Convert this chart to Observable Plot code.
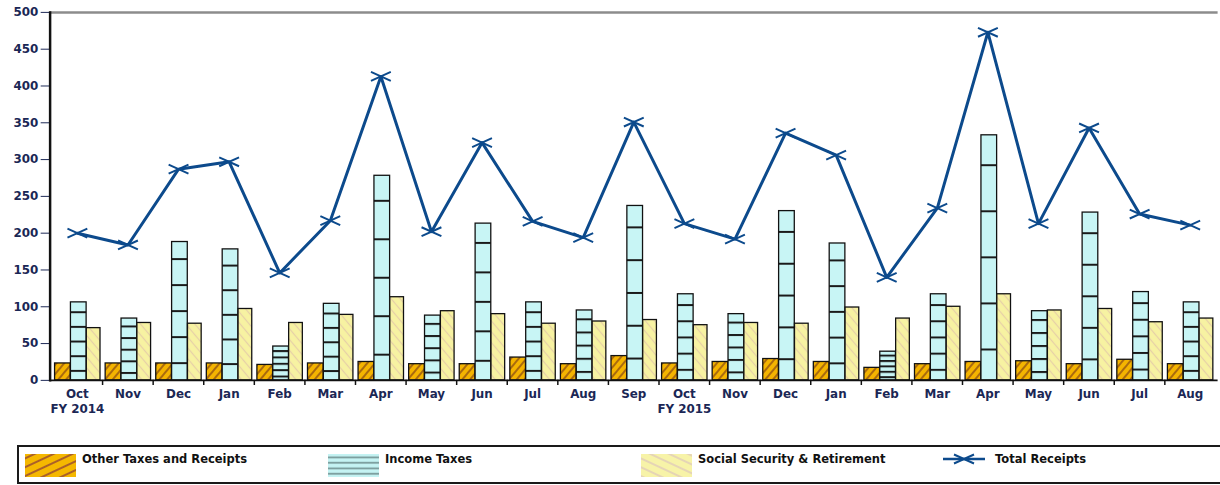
<!DOCTYPE html>
<html>
<head>
<meta charset="utf-8">
<script src="https://cdn.jsdelivr.net/npm/d3@7"></script>
<script src="https://cdn.jsdelivr.net/npm/@observablehq/plot@0.6"></script>
<style>
  html, body { margin: 0; padding: 0; overflow: hidden; background: #fff; width: 1220px; height: 485px; }
  #chart { position: absolute; left: 0; top: 0; }
  #legendBox { position: absolute; left: 17px; top: 445px; width: 1240px; height: 39px; box-sizing: border-box; border: 2px solid #1a1a1a; }
  .sw { position: absolute; }
  .lt { position: absolute; top: 452px; font: bold 11.5px "DejaVu Sans", sans-serif; color: #111; white-space: nowrap; }
</style>
</head>
<body>
<div id="chart"></div>
<div id="legendBox"></div>
<svg class="sw" style="left:25px;top:454px" width="51" height="23"><rect width="51" height="23" fill="url(#lgOther)"/></svg>
<div class="lt" style="left:82px">Other Taxes and Receipts</div>
<svg class="sw" style="left:328px;top:454px" width="51" height="23"><rect width="51" height="23" fill="url(#lgIncome)"/></svg>
<div class="lt" style="left:385px">Income Taxes</div>
<svg class="sw" style="left:641px;top:454px" width="51" height="23"><rect width="51" height="23" fill="url(#lgSS)"/></svg>
<div class="lt" style="left:698px">Social Security &amp; Retirement</div>
<svg class="sw" style="left:942px;top:452px" width="44" height="14">
  <line x1="1" y1="7" x2="43" y2="7" stroke="#0c4a8c" stroke-width="2.5"/>
  <path d="M12,2.5L32,11.5M12,11.5L32,2.5" stroke="#0c4a8c" stroke-width="2" fill="none"/>
</svg>
<div class="lt" style="left:995px">Total Receipts</div>

<svg width="0" height="0" style="position:absolute">
  <defs>
    <pattern id="pOther" patternUnits="userSpaceOnUse" width="6" height="6" patternTransform="rotate(40)">
      <rect width="6" height="6" fill="#f4b400"/>
      <line x1="3" y1="0" x2="3" y2="6" stroke="#8a4a14" stroke-width="1.4"/>
    </pattern>
    <pattern id="pIncome" patternUnits="objectBoundingBox" x="0" y="0.12" width="1" height="0.188">
      <rect width="400" height="4000" fill="#c8f5f5"/>
      <rect width="400" height="2" fill="#1a1a1a"/>
    </pattern>
    <pattern id="pSS" patternUnits="userSpaceOnUse" width="7" height="7" patternTransform="rotate(-40)">
      <rect width="7" height="7" fill="#f7f2a2"/>
      <line x1="3.5" y1="0" x2="3.5" y2="7" stroke="#e6cfa8" stroke-width="1.2"/>
    </pattern>
    <pattern id="lgOther" patternUnits="userSpaceOnUse" width="8" height="8" patternTransform="rotate(65)">
      <rect width="8" height="8" fill="#f5b800"/>
      <line x1="4" y1="0" x2="4" y2="8" stroke="#8a3a3a" stroke-width="1.4"/>
    </pattern>
    <pattern id="lgIncome" patternUnits="userSpaceOnUse" width="51" height="5.5">
      <rect width="51" height="5.5" fill="#c5f3f3"/>
      <line x1="0" y1="3.3" x2="51" y2="3.3" stroke="#6f8f8f" stroke-width="1.5"/>
    </pattern>
    <pattern id="lgSS" patternUnits="userSpaceOnUse" width="8" height="8" patternTransform="rotate(-65)">
      <rect width="8" height="8" fill="#f7f3a8"/>
      <line x1="4" y1="0" x2="4" y2="8" stroke="#d9c0c0" stroke-width="1.2"/>
    </pattern>
  </defs>
</svg>

<script>
const months = ["Oct","Nov","Dec","Jan","Feb","Mar","Apr","May","Jun","Jul","Aug","Sep",
                "Oct","Nov","Dec","Jan","Feb","Mar","Apr","May","Jun","Jul","Aug"];
const fyIndex = [0, 12];
const fyLabels = ["FY 2014", "FY 2015"];
const yTicks = [0, 50, 100, 150, 200, 250, 300, 350, 400, 450, 500];

const otherTaxes     = [23, 23, 23, 23, 21, 23, 25, 22, 22, 31, 22, 33, 23, 25, 29, 25, 17, 22, 25, 26, 22, 28, 22];
const incomeTaxes    = [106, 84, 188, 178, 46, 104, 278, 88, 213, 106, 95, 237, 117, 90, 230, 186, 39, 117, 333, 94, 228, 120, 106];
const socialSecurity = [71, 78, 77, 97, 78, 89, 113, 94, 90, 77, 80, 82, 75, 78, 77, 99, 84, 100, 117, 95, 97, 79, 84];
const totalReceipts  = [200, 184, 287, 297, 146, 217, 413, 202, 323, 216, 194, 351, 213, 192, 336, 306, 140, 234, 473, 213, 343, 226, 211];

const idx = d3.range(months.length);
const boundaries = d3.range(1, months.length);

const flatX = {
  draw(ctx) {
    ctx.moveTo(-10, -4.5); ctx.lineTo(10, 4.5);
    ctx.moveTo(-10, 4.5); ctx.lineTo(10, -4.5);
  }
};

const blue = "#0c4a8c";

const chart = Plot.plot({
  width: 1230, height: 425,
  marginLeft: 50, marginRight: 2.4, marginTop: 12, marginBottom: 42,
  style: { fontFamily: "DejaVu Sans", fontWeight: "bold", fontSize: "12px", color: "#1b2755", background: "transparent", overflow: "visible" },
  x: { type: "band", domain: idx, padding: 0, tickSize: 0, tickPadding: 9.5, tickFormat: i => months[i], label: null },
  y: { domain: [0, 500], ticks: yTicks, tickSize: 9, tickPadding: 3, label: null },
  marks: [
    Plot.ruleY([500], { stroke: "#8c8c8c", strokeWidth: 2.5 }),
    Plot.barY(idx, { x: i => i, y: i => otherTaxes[i], fill: "url(#pOther)", stroke: "#111", strokeWidth: 1.3, insetLeft: 3, insetRight: 32.2 }),
    Plot.barY(idx, { x: i => i, y: i => incomeTaxes[i], fill: "url(#pIncome)", stroke: "#111", strokeWidth: 1.3, insetLeft: 19, insetRight: 16.2 }),
    Plot.barY(idx, { x: i => i, y: i => socialSecurity[i], fill: "url(#pSS)", stroke: "#111", strokeWidth: 1.3, insetLeft: 35, insetRight: 2.2 }),
    Plot.ruleY([0], { stroke: "#111", strokeWidth: 2 }),
    Plot.frame({ anchor: "left", stroke: "#111", strokeWidth: 2.5 }),
    Plot.ruleX(boundaries, { x: d => d, dx: -25.6, y1: 0, y2: -7, stroke: "#111", strokeWidth: 1.5 }),
    Plot.line(idx, { x: i => i, y: i => totalReceipts[i], stroke: blue, strokeWidth: 3 }),
    Plot.dot(idx, { x: i => i, y: i => totalReceipts[i], symbol: flatX, stroke: blue, strokeWidth: 2, fill: "none", r: 5 }),
    Plot.text(fyIndex, { x: d => d, y: 0, text: (d, i) => fyLabels[i], lineAnchor: "top", dy: 24, fill: "#1b2755" })
  ]
});
document.getElementById("chart").appendChild(chart);
</script>
</body>
</html>
